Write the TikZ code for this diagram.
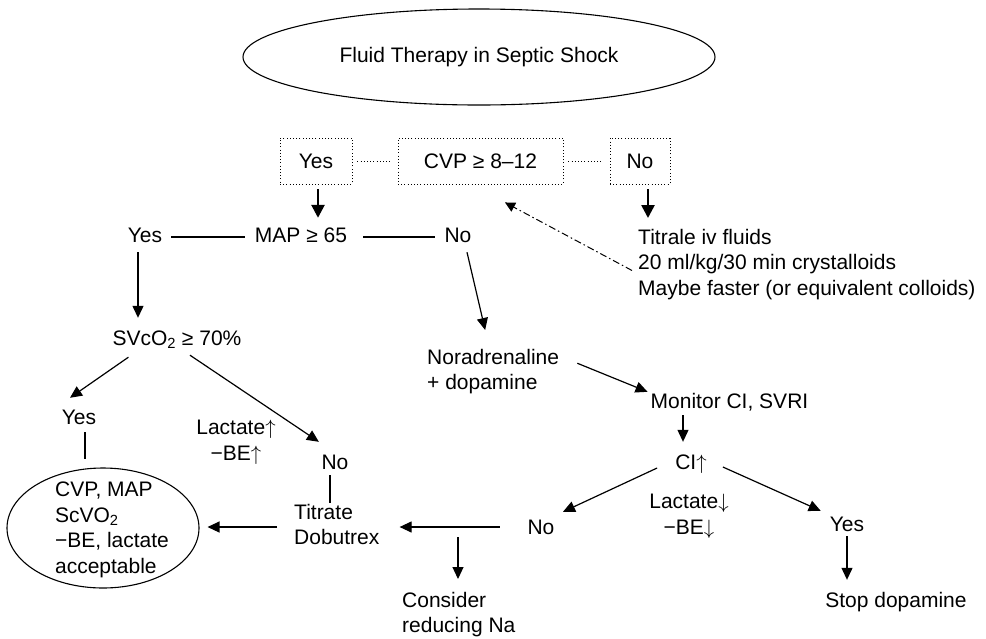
\documentclass[tikz,border=0pt]{standalone}
\usepackage{fontspec}
\setmainfont{Liberation Sans}
\usetikzlibrary{arrows.meta,shapes.geometric,calc}
\begin{document}
\begin{tikzpicture}[x=1pt,y=-1pt,
  every node/.style={font=\fontsize{21}{25.5}\selectfont, inner sep=0pt},
  txt/.style={text height=15pt, text depth=4pt},
  dbox/.style={draw, dash pattern=on 1pt off 2.2pt, line width=0.9pt, minimum height=46pt, text height=15pt, text depth=0pt},
  arr/.style={line width=1.2pt, -{Triangle[length=12pt,width=11pt]}},
  thickarr/.style={line width=2.6pt, -{Triangle[length=13pt,width=13pt]}},
  plain/.style={line width=1.2pt},
  dotline/.style={line width=0.9pt, dash pattern=on 1pt off 2.2pt},
  dashdot/.style={line width=1pt, dash pattern=on 7pt off 3pt on 1.5pt off 3pt, -{Triangle[length=10pt,width=10pt]}}
]
\fill[white] (0,0) rectangle (986,638);
\useasboundingbox (0,0) rectangle (986,638);

% nodes
\node[draw, ellipse, line width=1.1pt, minimum width=472pt, minimum height=96pt] (title) at (479,57) {Fluid Therapy in Septic Shock};

\node[dbox, minimum width=72pt] (yesbox) at (316,161) {Yes};
\node[dbox, minimum width=165pt] (cvpbox) at (480.5,161) {CVP ≥ 8–12};
\node[dbox, minimum width=60pt] (nobox) at (640,161) {No};

\node[txt] (yes1) at (145,237) {Yes};
\node[txt] (map) at (301,237) {MAP ≥ 65};
\node[txt] (no1) at (458,237) {No};
\node[anchor=north west, align=left] (titrale) at (638,229) {Titrale iv fluids\\20 ml/kg/30 min crystalloids\\Maybe faster (or equivalent colloids)};

\node[txt] (svco2) at (177,340) {SVcO\textsubscript{2} ≥ 70\%};
\node[anchor=north west, align=left] (nor) at (427,349) {Noradrenaline\\+ dopamine};
\node[txt] (monitor) at (729.5,403) {Monitor CI, SVRI};
\node[txt] (ci) at (691,464) {CI$\uparrow$};
\node[anchor=north, align=center] (lac2) at (689,494) {Lactate$\downarrow$\\−BE$\downarrow$};

\node[txt] (yes2) at (79,419) {Yes};
\node[anchor=north, align=center] (lac1) at (236,420) {Lactate$\uparrow$\\−BE$\uparrow$};
\node[txt] (no2) at (335,464) {No};
\node[anchor=north west, align=left] (titrate) at (294,504) {Titrate\\Dobutrex};
\node[draw, ellipse, line width=1.1pt, minimum width=192pt, minimum height=120pt] (resell) at (103,528) {};
\node[align=left] (res) at (112,530) {CVP, MAP\\ScVO\textsubscript{2}\\−BE, lactate\\acceptable};
\node[txt] (no3) at (541,529) {No};
\node[anchor=north west, align=left] (consider) at (402,592) {Consider\\reducing Na};
\node[txt] (yes3) at (847,526) {Yes};
\node[txt] (stop) at (896,602) {Stop dopamine};

\coordinate (split) at (458,527);
\coordinate (yb) at ([xshift=2pt]yesbox.south);
\coordinate (nb) at ([xshift=8pt]nobox.south);
\coordinate (y1) at ([xshift=-7pt]yes1.south);
\coordinate (y2) at ([xshift=6pt]yes2.south);
\coordinate (n2) at ([xshift=-5pt]no2.south);
\coordinate (cc) at ([xshift=-8pt]ci.north);

% connectors
\draw[dotline, shorten <=5pt, shorten >=6pt] (yesbox) -- (cvpbox);
\draw[dotline, shorten <=5pt, shorten >=7pt] (cvpbox) -- (nobox);
\draw[thickarr, shorten <=5pt, shorten >=9.5pt] (yb) -- (yb |- map.north);
\draw[thickarr, shorten <=5pt, shorten >=11pt] (nb) -- (nb |- titrale.north);
\draw[dashdot] ([shift={(-6,6)}]titrale.west) -- ([shift={(24.5,18)}]cvpbox.south);

\draw[plain, shorten <=9pt, shorten >=10pt] (yes1) -- (map);
\draw[plain, shorten <=16pt, shorten >=9.5pt] (map) -- (no1);
\draw[arr, shorten <=5.5pt, shorten >=12.5pt] (y1) -- (y1 |- svco2.north);
\draw[arr] ([shift={(9,5.5)}]no1.south) -- ([shift={(-8,-19)}]nor.north);

\draw[arr] ([shift={(16,7.5)}]svco2.south west) -- ([shift={(-9,-11.5)}]yes2.north);
\draw[arr] ([shift={(13,5.5)}]svco2.south) -- ([shift={(-2.5,-12.5)}]no2.north west);
\draw[plain, shorten <=3.5pt, shorten >=8pt] (y2) -- (y2 |- resell.north);
\draw[plain, shorten <=1.5pt, shorten >=1pt] (n2) -- (n2 |- titrate.north);
\draw[arr, shorten <=17pt, shorten >=8pt] (titrate.west |- split) -- (resell.east |- split);

\draw[arr] ([shift={(18,-8.5)}]nor.east) -- ([shift={(-3,-1.5)}]monitor.north west);
\draw[arr, shorten <=2.5pt, shorten >=12.5pt] (cc |- monitor.south) -- (cc);
\draw[arr] ([shift={(-18,4)}]ci.west) -- ([shift={(22,-7.5)}]no3.north);
\draw[arr] ([shift={(16,3)}]ci.east) -- ([shift={(-9,-5.5)}]yes3.north west);
\draw[arr, shorten <=27.5pt, shorten >=20pt] (no3.west |- split) -- (titrate.east |- split);
\draw[arr, shorten <=10pt, shorten >=13pt] (split) -- (split |- consider.north);
\draw[arr, shorten <=0.5pt, shorten >=12.5pt] (yes3.south) -- (yes3.south |- stop.north);
\end{tikzpicture}
\end{document}
